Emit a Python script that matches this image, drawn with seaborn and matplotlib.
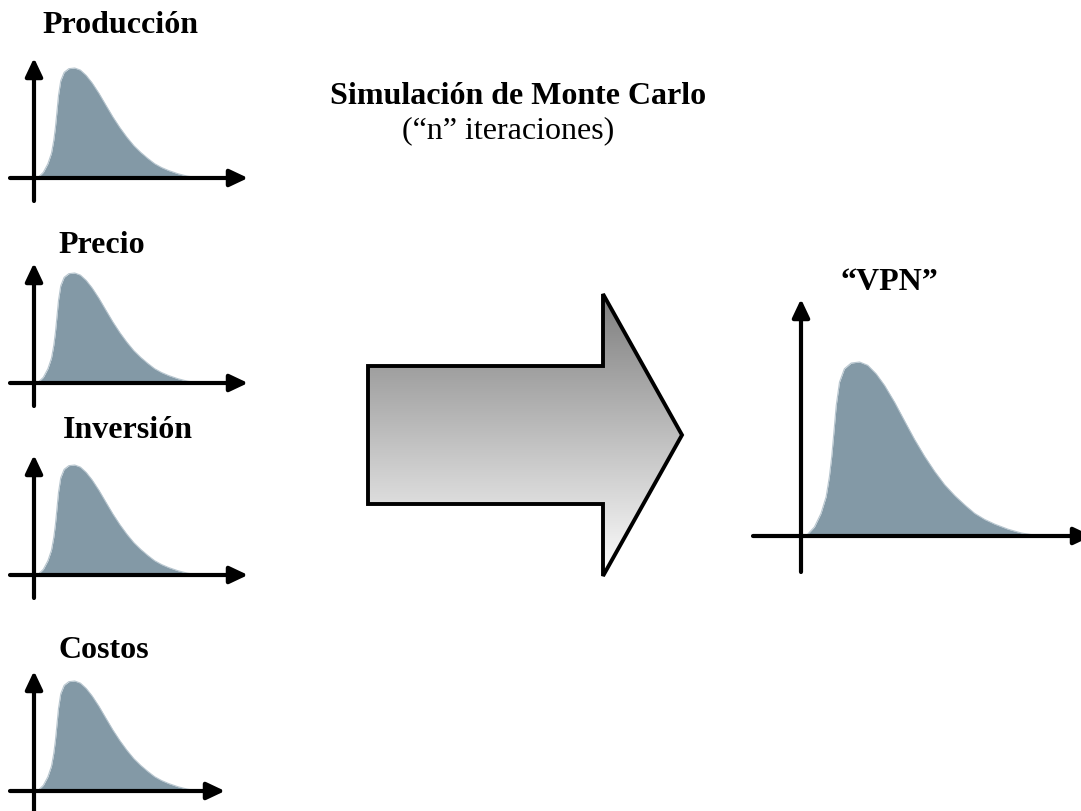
import numpy as np
import pandas as pd
import matplotlib
matplotlib.use("Agg")
import matplotlib.pyplot as plt
import seaborn as sns
from matplotlib.patches import Polygon
from matplotlib.colors import LinearSegmentedColormap

sns.set_theme(style="white")
plt.rcParams["font.family"] = ["Liberation Serif", "DejaVu Serif"]

# ---- data: skewed distribution shape (normalised) ----
curve_t = [0.0, 0.036, 0.064, 0.086, 0.10, 0.11, 0.119, 0.129, 0.143, 0.164,
           0.193, 0.229, 0.264, 0.30, 0.336, 0.379, 0.421, 0.464, 0.507, 0.55,
           0.593, 0.636, 0.679, 0.721, 0.764, 0.807, 0.864, 0.921, 1.0]
curve_h = [0.0, 0.052, 0.13, 0.226, 0.342, 0.458, 0.594, 0.749, 0.884, 0.961,
           0.994, 1.0, 0.981, 0.932, 0.865, 0.768, 0.662, 0.555, 0.458, 0.371,
           0.294, 0.232, 0.178, 0.13, 0.095, 0.068, 0.039, 0.017, 0.0]
input_labels = ["Producción", "Precio", "Inversión", "Costos"]
output_label = "\u201cVPN\u201d"
title_text = "Simulación de Monte Carlo"
subtitle_text = "(\u201cn\u201d iteraciones)"

FILL = "#8399a6"
FS = 23
W, H = 1081, 812
fig = plt.figure(figsize=(W / 100, H / 100), dpi=100)

# overlay axes in pixel coordinates for texts and the big arrow
ov = fig.add_axes([0, 0, 1, 1])
ov.set_axis_off()


def px_axes(l, t, r, b):
    return fig.add_axes([l / W, 1 - b / H, (r - l) / W, (b - t) / H])


df = pd.DataFrame({"t": curve_t, "h": curve_h})


def dist_chart(cx0, cx1, yb, ypk, axx, xl, xr, yt, ybt):
    ax = px_axes(xl, yt, xr, ybt)
    sx = cx1 - cx0
    sy = yb - ypk
    x0, x1 = (xl - cx0) / sx, (xr - cx0) / sx
    y0, y1 = (yb - ybt) / sy, (yb - yt) / sy
    ax.fill_between(df["t"], 0, df["h"], color=FILL, lw=0, zorder=1)
    sns.lineplot(data=df, x="t", y="h", ax=ax, color="#b8c6cf", lw=0.8,
                 zorder=2, legend=False)
    ax.set_xlim(x0, x1)
    ax.set_ylim(y0, y1)
    ax.set_axis_off()
    ap = dict(arrowstyle="-|>,head_length=0.55,head_width=0.26", lw=3,
              color="black", shrinkA=0, shrinkB=0, mutation_scale=20)
    xa = (axx - cx0) / sx
    ax.annotate("", xy=(x1, 0), xytext=(x0, 0), arrowprops=ap,
                annotation_clip=False, zorder=3)
    ax.annotate("", xy=(xa, y1), xytext=(xa, y0), arrowprops=ap,
                annotation_clip=False, zorder=3)
    return ax


# small input charts
baselines = [179, 384, 576, 792]
right_ends = [248, 248, 248, 225]
label_pos = [(42, 33), (58, 253), (63, 438), (58, 658)]
for lab, yb, xr, (lx, ly) in zip(input_labels, baselines, right_ends, label_pos):
    dist_chart(37.5, 200, yb, yb - 110, 34, 10, xr, yb - 120, yb + 23)
    ov.text(lx, ly, lab, fontsize=FS, fontweight="bold", ha="left",
            va="baseline", color="black")

# output chart
dist_chart(806, 1040, 537, 363, 801, 753, 1092, 300, 573)
ov.text(840, 290, output_label, fontsize=FS, fontweight="bold", ha="left",
        va="baseline", color="black")

# titles
ov.text(330, 104, title_text, fontsize=FS, fontweight="bold", ha="left",
        va="baseline", color="black")
ov.text(402, 138, subtitle_text, fontsize=FS, ha="left", va="baseline",
        color="black")

# big gradient arrow
arrow_pts = [(368, 367), (603, 367), (603, 295), (682, 436), (603, 577),
             (603, 505), (368, 505)]
poly = Polygon(arrow_pts, closed=True, facecolor="none", edgecolor="black",
               lw=2.8, joinstyle="miter", zorder=5)
ov.add_patch(poly)
cmap = LinearSegmentedColormap.from_list("g", ["#7e7e7e", "#fefefe"])
grad = np.linspace(0, 1, 256).reshape(-1, 1)
im = ov.imshow(grad, cmap=cmap, extent=(368, 682, 577, 295), origin="upper",
               aspect="auto", zorder=4)
im.set_clip_path(poly)
ov.set_xlim(0, W)
ov.set_ylim(H, 0)

fig.savefig("out.png", dpi=100, facecolor="white")
